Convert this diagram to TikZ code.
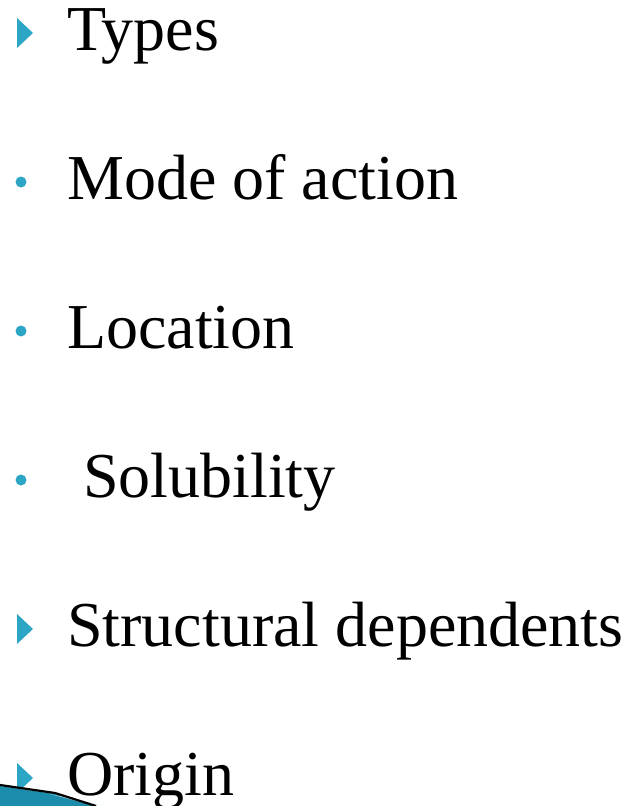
\documentclass[tikz,border=0pt]{standalone}
\usepackage{fontspec}
\setmainfont{Liberation Serif}
\usetikzlibrary{calc}

\definecolor{bulletteal}{HTML}{2CA6C4}
\definecolor{swoosh}{HTML}{1B8CAB}
\definecolor{swooshlight}{HTML}{BFE6F0}

\begin{document}
\begin{tikzpicture}[
        % pixel-like units, y running down the page
        x=1pt, y=-1pt,
        %
        itemtext/.style={anchor=base west, inner sep=0pt,
            font=\fontsize{64}{64}\selectfont},
        tribullet/.style={fill=bulletteal, draw=none},
        dotbullet/.style={fill=bulletteal, draw=none}
    ]

        % Page frame
        \useasboundingbox (0,0) rectangle (629,806);

        % Define the list parameters
        \def\textx{67}
        \def\bulletx{17}
        \def\rise{17}

        % Define bullet sizes
        \def\triw{16}
        \def\trih{15}
        \def\dotr{5.5pt}

        % Draw the items with triangle bullets
        \foreach \name/\base/\txt in {types/50/Types,
                                     struct/646/Structural dependents,
                                     origin/795/Origin}
        {
            \node[itemtext] (\name) at (\textx, \base) {\txt};
            \draw[tribullet]
                ( \bulletx       , \base-\rise-\trih ) --
                ( \bulletx+\triw , \base-\rise       ) --
                ( \bulletx       , \base-\rise+\trih ) --
                cycle;
        }

        % Draw the items with dot bullets
        \foreach \name/\base/\txt in {mode/199/Mode of action,
                                     location/348/Location,
                                     solubility/497/\ Solubility}
        {
            \node[itemtext] (\name) at (\textx, \base) {\txt};
            \fill[dotbullet] ( \bulletx+4, \base-\rise ) circle [radius=\dotr];
        }

        % Draw the swoosh in the bottom left corner
        \fill[swoosh]
            (  0, 786) -- ( 55, 794) -- ( 96, 806) -- (0, 806) -- cycle;
        \shade[left color=swooshlight, right color=white]
            ( 50, 794) -- (108, 806) -- ( 96, 806) -- cycle;
        \draw[line width=2.2pt, black]
            (  0, 785) -- ( 55, 793) -- ( 96, 806);

    \end{tikzpicture}
\end{document}
